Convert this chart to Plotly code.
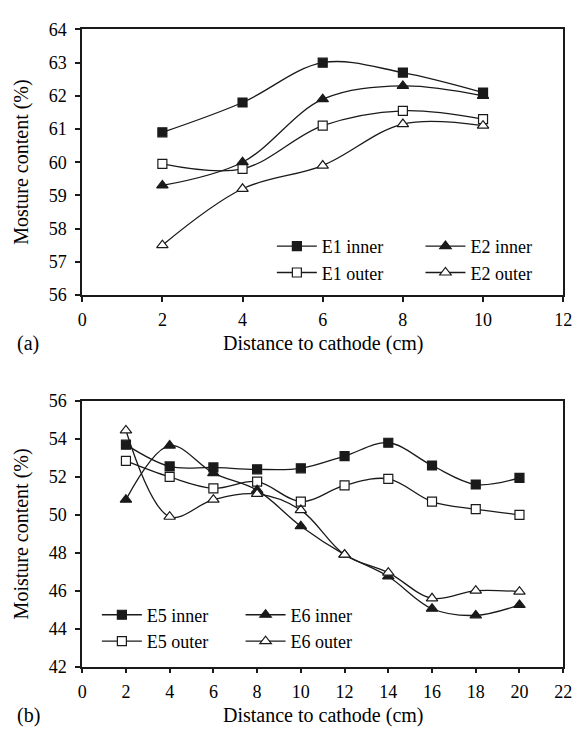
import plotly.graph_objects as go

W, H = 581, 733

# ---- data (a) ----
x_a = [2, 4, 6, 8, 10]
e1_inner = [60.9, 61.8, 63.0, 62.7, 62.1]
e2_inner = [59.3, 60.0, 61.9, 62.3, 62.0]
e1_outer = [59.95, 59.8, 61.1, 61.55, 61.3]
e2_outer = [57.5, 59.2, 59.9, 61.15, 61.1]

# ---- data (b) ----
x_b = [2, 4, 6, 8, 10, 12, 14, 16, 18, 20]
e5_inner = [53.7, 52.55, 52.5, 52.4, 52.45, 53.1, 53.8, 52.6, 51.6, 51.95]
e5_outer = [52.85, 52.0, 51.4, 51.75, 50.7, 51.55, 51.9, 50.7, 50.3, 50.0]
e6_inner = [50.8, 53.65, 52.2, 51.3, 49.4, 47.9, 46.75, 45.05, 44.7, 45.25]
e6_outer = [54.45, 49.9, 50.8, 51.1, 50.25, 47.9, 46.95, 45.6, 46.0, 45.95]

FONT = "Liberation Serif"
INK = "#1a1a1a"

def px_x(p):
    return p / W

def px_y(p):
    return 1 - p / H

fig = go.Figure()

def add(x, y, name, symbol, filled, xa, ya, legend):
    fig.add_trace(go.Scatter(
        x=x, y=y, name=name, mode="lines+markers",
        line=dict(color=INK, width=1.3, shape="spline", smoothing=1.0),
        marker=dict(symbol=symbol, size=9 if symbol == "square" else 10,
                    color=INK if filled else "white",
                    line=dict(color=INK, width=1.2)),
        xaxis=xa, yaxis=ya, legend=legend,
    ))

add(x_a, e1_inner, "E1 inner", "square", True, "x", "y", "legend")
add(x_a, e1_outer, "E1 outer", "square", False, "x", "y", "legend")
add(x_a, e2_inner, "E2 inner", "triangle-up", True, "x", "y", "legend2")
add(x_a, e2_outer, "E2 outer", "triangle-up", False, "x", "y", "legend2")

add(x_b, e5_inner, "E5 inner", "square", True, "x2", "y2", "legend3")
add(x_b, e5_outer, "E5 outer", "square", False, "x2", "y2", "legend3")
add(x_b, e6_inner, "E6 inner", "triangle-up", True, "x2", "y2", "legend4")
add(x_b, e6_outer, "E6 outer", "triangle-up", False, "x2", "y2", "legend4")

axis_common = dict(
    showline=True, linecolor=INK, linewidth=1.5, mirror=True,
    ticks="outside", ticklen=5, tickwidth=1.5, tickcolor=INK,
    showgrid=False, zeroline=False,
    tickfont=dict(family=FONT, size=18, color="black"),
)

xdom = [px_x(80), px_x(572)]

leg_common = dict(
    font=dict(family=FONT, size=18, color="black"),
    bgcolor="rgba(0,0,0,0)", borderwidth=0,
    xanchor="left", yanchor="top", orientation="v",
    tracegroupgap=0, itemwidth=40,
)

fig.update_layout(
    width=W, height=H,
    margin=dict(l=0, r=0, t=0, b=0),
    paper_bgcolor="white", plot_bgcolor="white",
    showlegend=True,
    xaxis=dict(domain=xdom, range=[0, 12], dtick=2, anchor="y",
               ticklabelstandoff=3, **axis_common),
    yaxis=dict(domain=[px_y(293), px_y(20)], range=[56, 64], dtick=1, anchor="x",
               ticklabelstandoff=5, **axis_common),
    xaxis2=dict(domain=xdom, range=[0, 22], dtick=2, anchor="y2",
                ticklabelstandoff=3, **axis_common),
    yaxis2=dict(domain=[px_y(675), px_y(402)], range=[42, 56], dtick=2, anchor="x2",
                ticklabelstandoff=5, **axis_common),
    legend=dict(x=px_x(274), y=px_y(224), **leg_common),
    legend2=dict(x=px_x(426), y=px_y(224), **leg_common),
    legend3=dict(x=px_x(95), y=px_y(603), **leg_common),
    legend4=dict(x=px_x(242), y=px_y(603), **leg_common),
)

ann_font = dict(family=FONT, size=20, color="black")
anns = [
    dict(text="Mosture content (%)", x=px_x(18), y=px_y(156.5), textangle=-90),
    dict(text="Moisture content (%)", x=px_x(18), y=px_y(538.5), textangle=-90),
    dict(text="Distance to cathode (cm)", x=px_x(326), y=px_y(343)),
    dict(text="Distance to cathode (cm)", x=px_x(326), y=px_y(725)),
    dict(text="(a)", x=px_x(25), y=px_y(343)),
    dict(text="(b)", x=px_x(25), y=px_y(725)),
]
for a in anns:
    fig.add_annotation(xref="paper", yref="paper", showarrow=False,
                       xanchor="center", yanchor="middle", font=ann_font, **a)

fig.write_html("out.html")
